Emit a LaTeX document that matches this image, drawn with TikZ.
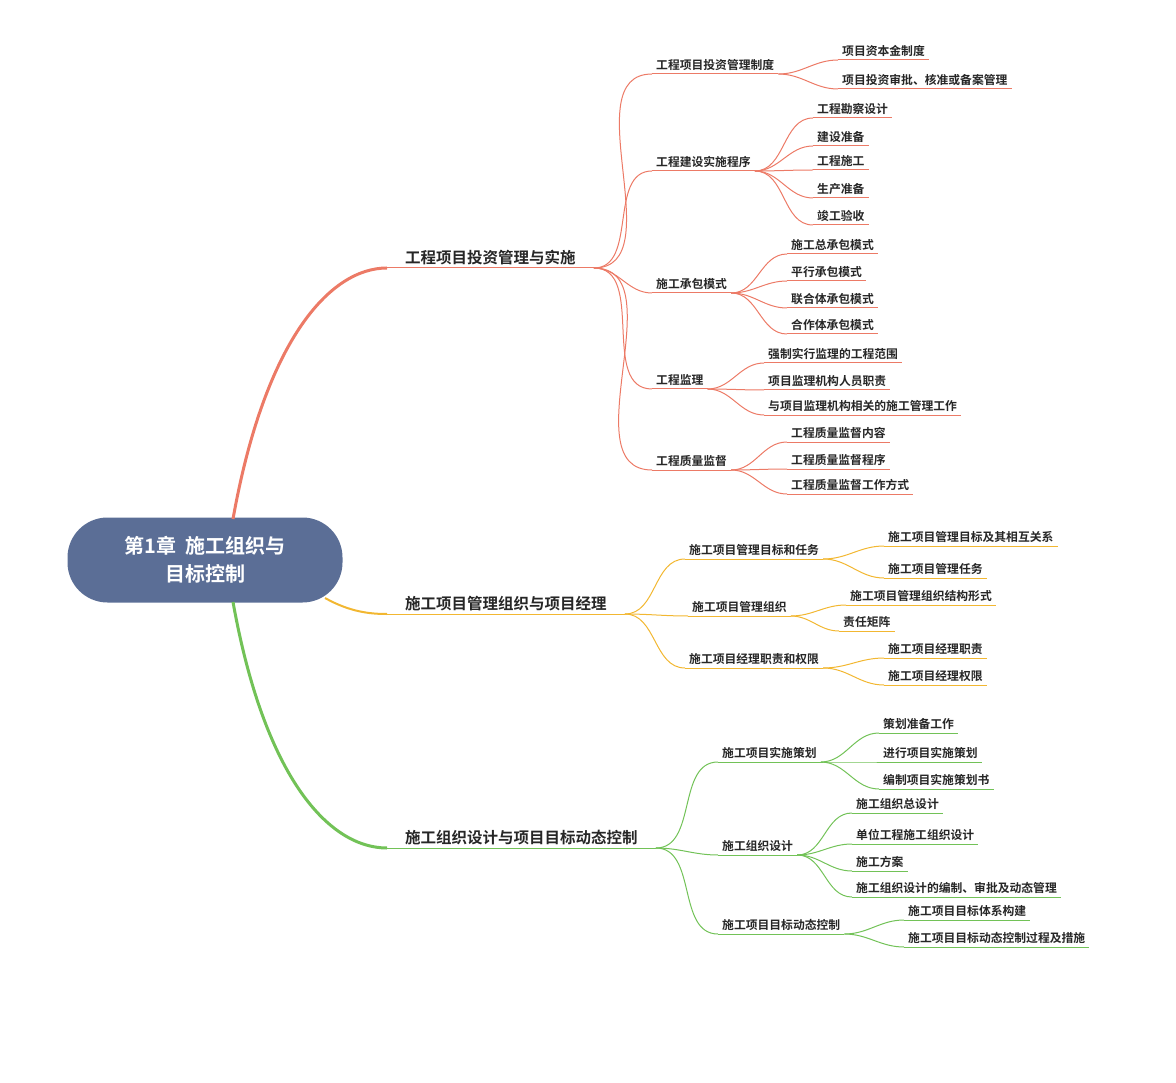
\documentclass[tikz,border=0pt]{standalone}
\usepackage{fontspec}
\newfontfamily\cjk{Noto Sans CJK SC}[BoldFont={Noto Sans CJK SC Bold}]
\definecolor{cr}{HTML}{EC7A66}
\definecolor{cy}{HTML}{F2B731}
\definecolor{cg}{HTML}{72C257}
\definecolor{root}{HTML}{5B6E96}
\begin{document}
\begin{tikzpicture}[x=1pt,y=-1pt,
  lf/.style={anchor=south west,inner xsep=4pt,inner ysep=3pt,font=\cjk\bfseries\fontsize{11.8}{12}\selectfont,text=black!85},
  br/.style={anchor=south west,inner xsep=18pt,inner ysep=3pt,font=\cjk\bfseries\fontsize{15.5}{16}\selectfont,text=black!85},
  ln/.style={line width=1pt}]
\useasboundingbox (0,0) rectangle (1176,1083);
\newcommand\mmnode[6]{% name,style,x,uly,color,text
  \node[#2] (#1) at (#3,#4) {#6};
  \draw[#5,ln] (#1.south west)--(#1.south east);}
\newcommand\mmlink[3]{\draw[#3,ln] (#1.south east) to[out=0,in=180] (#2.south west);}
\node[fill=root,rounded corners=40pt,minimum width=275pt,minimum height=85pt,text=white,align=center,font=\cjk\bfseries\fontsize{20}{28}\selectfont] (R) at (205,560) {第1章\ \ 施工组织与\\目标控制};
% level 1
\mmnode{A}{br}{387}{268}{cr}{工程项目投资管理与实施}
\mmnode{B}{br}{387}{614}{cy}{施工项目管理组织与项目经理}
\mmnode{C}{br}{387}{848}{cg}{施工组织设计与项目目标动态控制}
\draw[cr,line width=3pt] (233,519) .. controls (265,340) and (330,268) .. (A.south west);
\draw[cy,line width=2pt] (325,598) .. controls (350,612) and (370,614) .. (B.south west);
\draw[cg,line width=3pt] (233,602) .. controls (265,780) and (330,848) .. (C.south west);
% red
\mmnode{A1}{lf}{652}{74}{cr}{工程项目投资管理制度}
\mmnode{A2}{lf}{652}{171}{cr}{工程建设实施程序}
\mmnode{A3}{lf}{652}{293}{cr}{施工承包模式}
\mmnode{A4}{lf}{652}{389}{cr}{工程监理}
\mmnode{A5}{lf}{652}{470}{cr}{工程质量监督}
\foreach \n in {A1,A2,A3,A4,A5}{\mmlink{A}{\n}{cr}}
\mmnode{A11}{lf}{838}{60}{cr}{项目资本金制度}
\mmnode{A12}{lf}{838}{89}{cr}{项目投资审批、核准或备案管理}
\foreach \n in {A11,A12}{\mmlink{A1}{\n}{cr}}
\mmnode{A21}{lf}{813}{118}{cr}{工程勘察设计}
\mmnode{A22}{lf}{813}{146}{cr}{建设准备}
\mmnode{A23}{lf}{813}{170}{cr}{工程施工}
\mmnode{A24}{lf}{813}{198}{cr}{生产准备}
\mmnode{A25}{lf}{813}{225}{cr}{竣工验收}
\foreach \n in {A21,A22,A23,A24,A25}{\mmlink{A2}{\n}{cr}}
\mmnode{A31}{lf}{787}{254}{cr}{施工总承包模式}
\mmnode{A32}{lf}{787}{281}{cr}{平行承包模式}
\mmnode{A33}{lf}{787}{308}{cr}{联合体承包模式}
\mmnode{A34}{lf}{787}{334}{cr}{合作体承包模式}
\foreach \n in {A31,A32,A33,A34}{\mmlink{A3}{\n}{cr}}
\mmnode{A41}{lf}{764}{363}{cr}{强制实行监理的工程范围}
\mmnode{A42}{lf}{764}{390}{cr}{项目监理机构人员职责}
\mmnode{A43}{lf}{764}{415}{cr}{与项目监理机构相关的施工管理工作}
\foreach \n in {A41,A42,A43}{\mmlink{A4}{\n}{cr}}
\mmnode{A51}{lf}{787}{442}{cr}{工程质量监督内容}
\mmnode{A52}{lf}{787}{469}{cr}{工程质量监督程序}
\mmnode{A53}{lf}{787}{494}{cr}{工程质量监督工作方式}
\foreach \n in {A51,A52,A53}{\mmlink{A5}{\n}{cr}}
% yellow
\mmnode{B1}{lf}{685}{559}{cy}{施工项目管理目标和任务}
\mmnode{B2}{lf}{688}{616}{cy}{施工项目管理组织}
\mmnode{B3}{lf}{685}{668}{cy}{施工项目经理职责和权限}
\foreach \n in {B1,B2,B3}{\mmlink{B}{\n}{cy}}
\mmnode{B11}{lf}{884}{546}{cy}{施工项目管理目标及其相互关系}
\mmnode{B12}{lf}{884}{578}{cy}{施工项目管理任务}
\foreach \n in {B11,B12}{\mmlink{B1}{\n}{cy}}
\mmnode{B21}{lf}{846}{605}{cy}{施工项目管理组织结构形式}
\mmnode{B22}{lf}{839}{631}{cy}{责任矩阵}
\foreach \n in {B21,B22}{\mmlink{B2}{\n}{cy}}
\mmnode{B31}{lf}{884}{658}{cy}{施工项目经理职责}
\mmnode{B32}{lf}{884}{685}{cy}{施工项目经理权限}
\foreach \n in {B31,B32}{\mmlink{B3}{\n}{cy}}
% green
\mmnode{C1}{lf}{718}{762}{cg}{施工项目实施策划}
\mmnode{C2}{lf}{718}{855}{cg}{施工组织设计}
\mmnode{C3}{lf}{718}{934}{cg}{施工项目目标动态控制}
\foreach \n in {C1,C2,C3}{\mmlink{C}{\n}{cg}}
\mmnode{C11}{lf}{879}{733}{cg}{策划准备工作}
\mmnode{C12}{lf}{879}{762}{cg}{进行项目实施策划}
\mmnode{C13}{lf}{879}{789}{cg}{编制项目实施策划书}
\foreach \n in {C11,C12,C13}{\mmlink{C1}{\n}{cg}}
\mmnode{C21}{lf}{852}{813}{cg}{施工组织总设计}
\mmnode{C22}{lf}{852}{844}{cg}{单位工程施工组织设计}
\mmnode{C23}{lf}{852}{871}{cg}{施工方案}
\mmnode{C24}{lf}{852}{897}{cg}{施工组织设计的编制、审批及动态管理}
\foreach \n in {C21,C22,C23,C24}{\mmlink{C2}{\n}{cg}}
\mmnode{C31}{lf}{904}{920}{cg}{施工项目目标体系构建}
\mmnode{C32}{lf}{904}{947}{cg}{施工项目目标动态控制过程及措施}
\foreach \n in {C31,C32}{\mmlink{C3}{\n}{cg}}
\end{tikzpicture}
\end{document}
